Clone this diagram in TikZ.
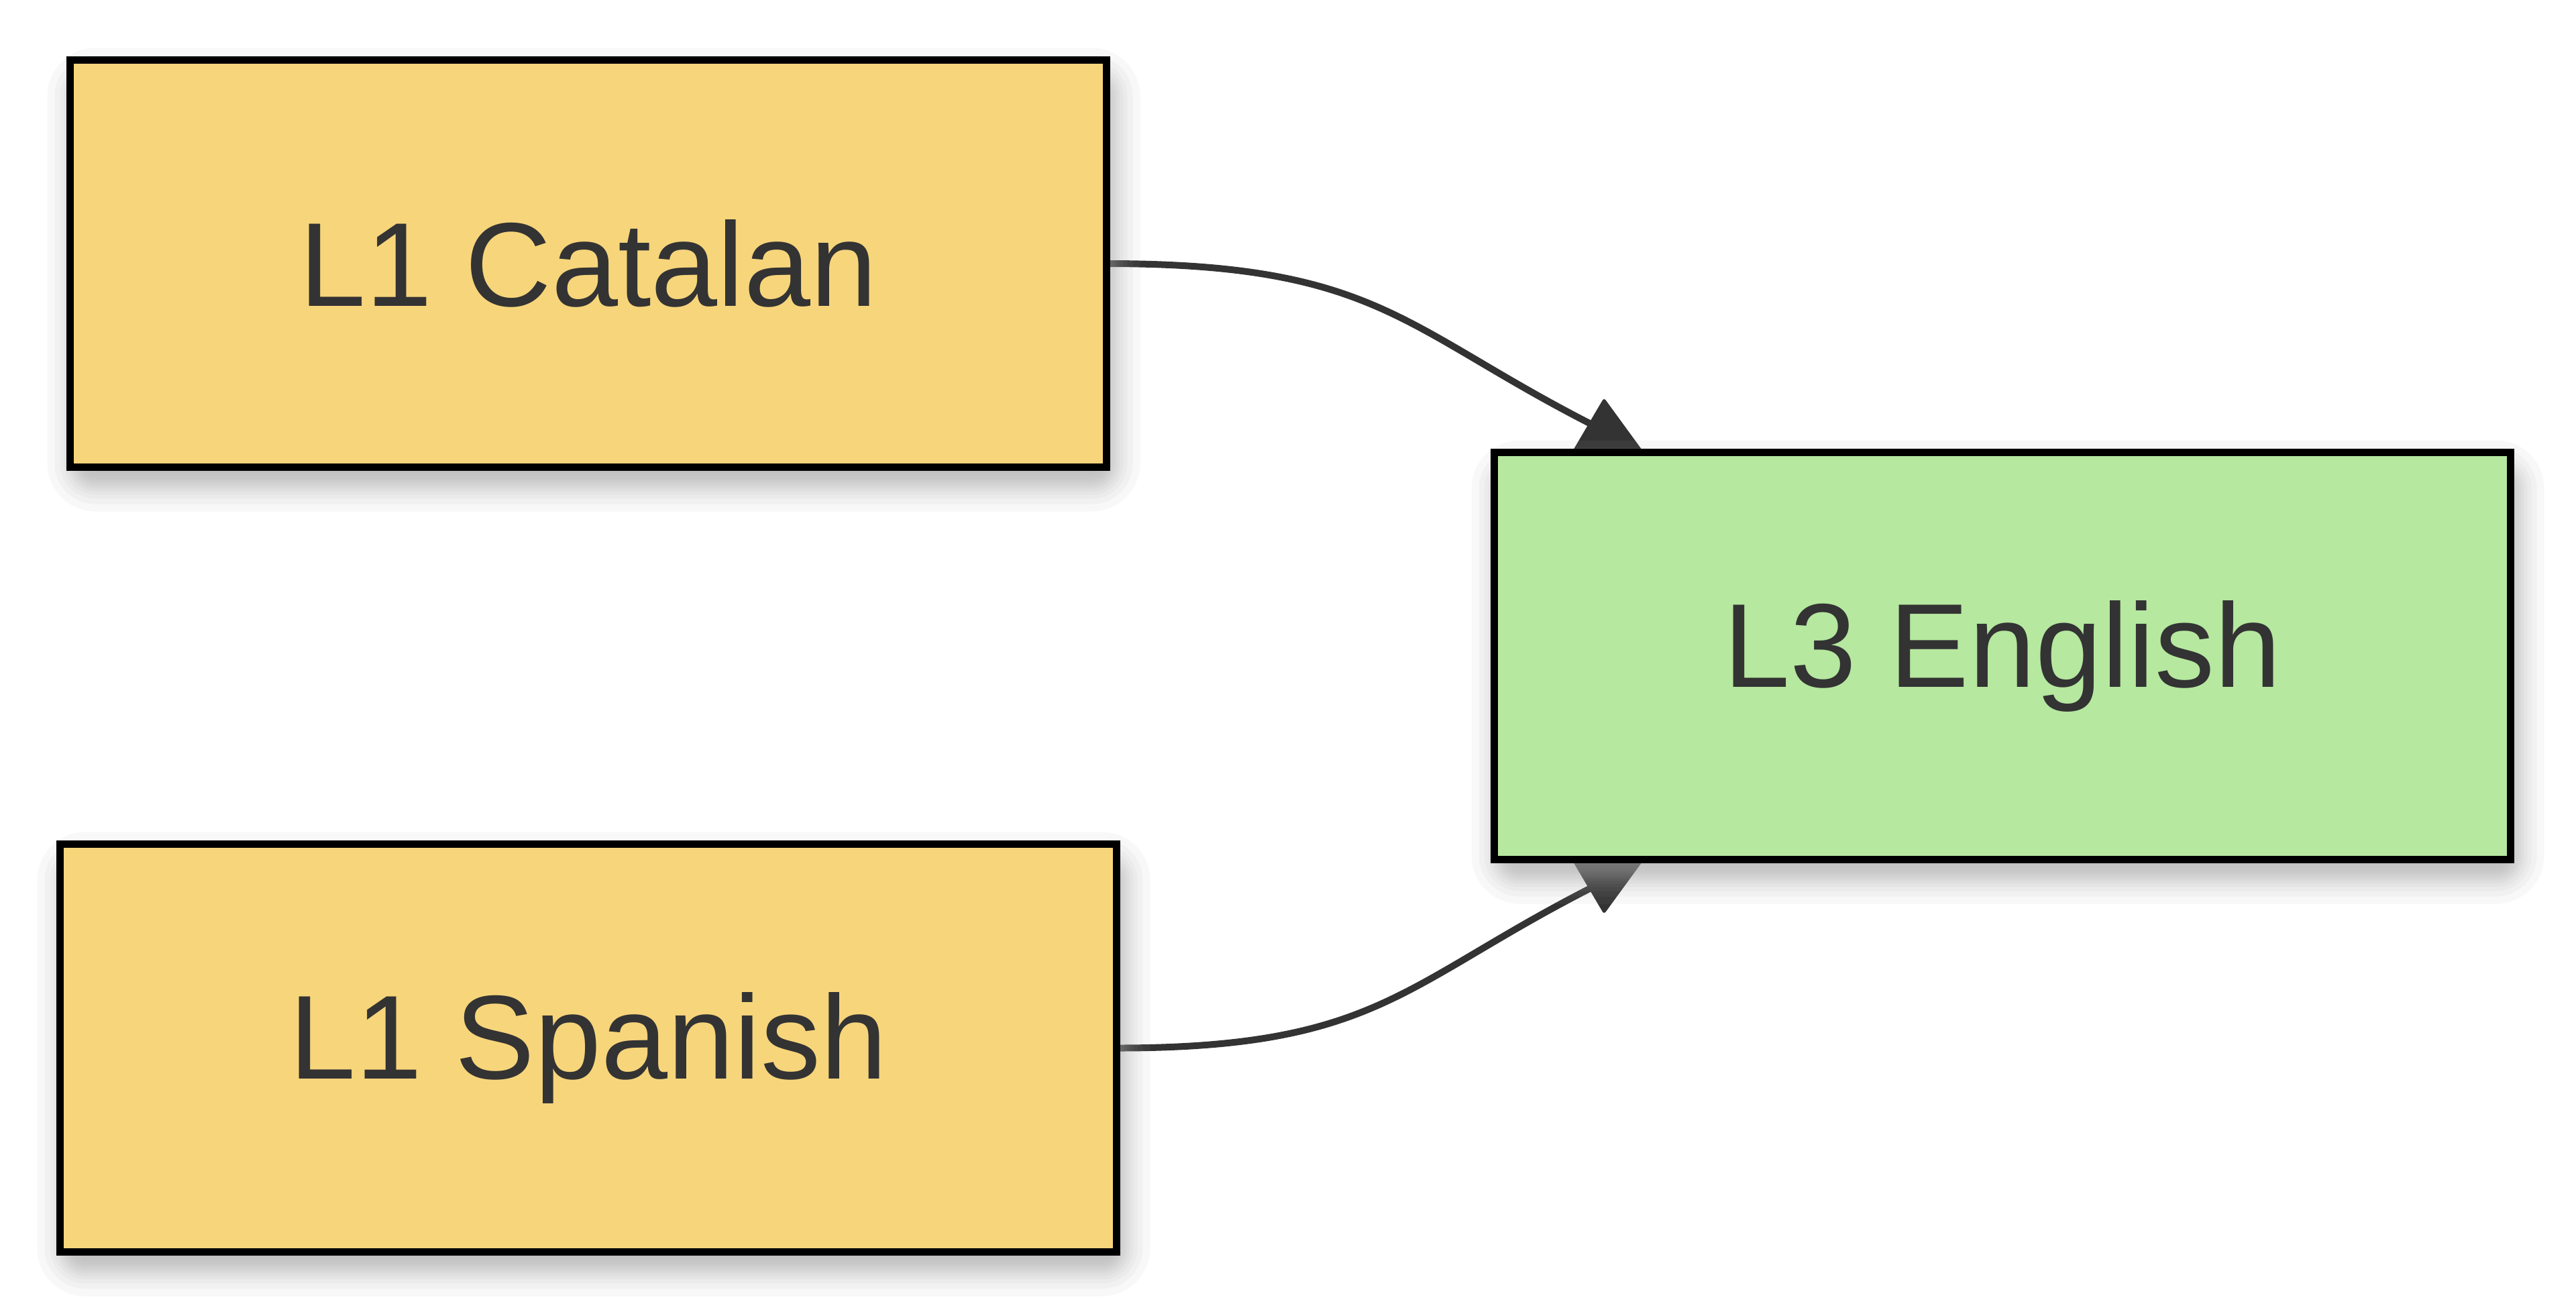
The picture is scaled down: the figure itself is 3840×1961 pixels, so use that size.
\documentclass[tikz,border=0pt]{standalone}
\usepackage{fontspec}
\setmainfont{Liberation Sans}
\usetikzlibrary{calc}
\definecolor{ink}{HTML}{333333}
\definecolor{l1fill}{HTML}{F7D57B}
\definecolor{l3fill}{HTML}{B6E8A0}
\definecolor{shadowgray}{HTML}{A0A0A0}
\pgfdeclarelayer{edges}
\pgfdeclarelayer{shadow}
\pgfsetlayers{edges,shadow,main}
\tikzset{
  langbox/.style={draw=black, line width=2.75pt, rectangle, outer sep=0pt,
    inner sep=0pt, text=ink, font=\fontsize{44.5pt}{54pt}\selectfont},
  l1box/.style={langbox, fill=l1fill},
  l3box/.style={langbox, fill=l3fill},
  link/.style={draw=ink, line width=2.5pt},
  tiphead/.style={fill=ink, rounded corners=1pt},
}
% soft drop shadow behind a node, built from stacked translucent rectangles
\newcommand{\softshadow}[1]{%
  \begin{pgfonlayer}{shadow}
    \foreach \d in {-30,-22,-16,-11,-7,-4,-1,2,5,8,12,17,23,31,42} {
      \pgfmathsetmacro\rc{max(1,(\d+30)*0.25)}
      \fill[shadowgray, fill opacity=0.08, rounded corners=\rc pt]
        ($(#1.north west)+(8-\d,24-\d)$) rectangle ($(#1.south east)+(8+\d,24+\d)$);
    }
  \end{pgfonlayer}}
\begin{document}
\begin{tikzpicture}[x=0.25pt, y=-0.25pt]
  \useasboundingbox (0,0) rectangle (3840,1961);

  % language boxes
  \node[l1box, minimum width=386.25pt, minimum height=151.75pt] (cat) at (877,393) {L1 Catalan};
  \node[l1box, minimum width=393.75pt, minimum height=152pt] (spa) at (877,1562.5) {L1 Spanish};
  \node[l3box, minimum width=378.75pt, minimum height=151.75pt] (eng) at (2985,978) {L3 English};

  \softshadow{cat}
  \softshadow{spa}
  \softshadow{eng}

  % connectors into the L3 box
  \coordinate (catend) at (2391,642);
  \coordinate (spaend) at (2391,1314);
  \begin{pgfonlayer}{edges}
    \draw[link] (cat.east) .. controls (2060,393) and (2091,492) .. (catend);
    \draw[link] (spa.east) .. controls (2060,1562.5) and (2091,1464) .. (spaend);
    \fill[tiphead] (2391,593) -- (2469,700) -- (2328,700) -- cycle;
    \fill[tiphead] (2391,1363) -- (2469,1256) -- (2328,1256) -- cycle;
  \end{pgfonlayer}
\end{tikzpicture}
\end{document}
